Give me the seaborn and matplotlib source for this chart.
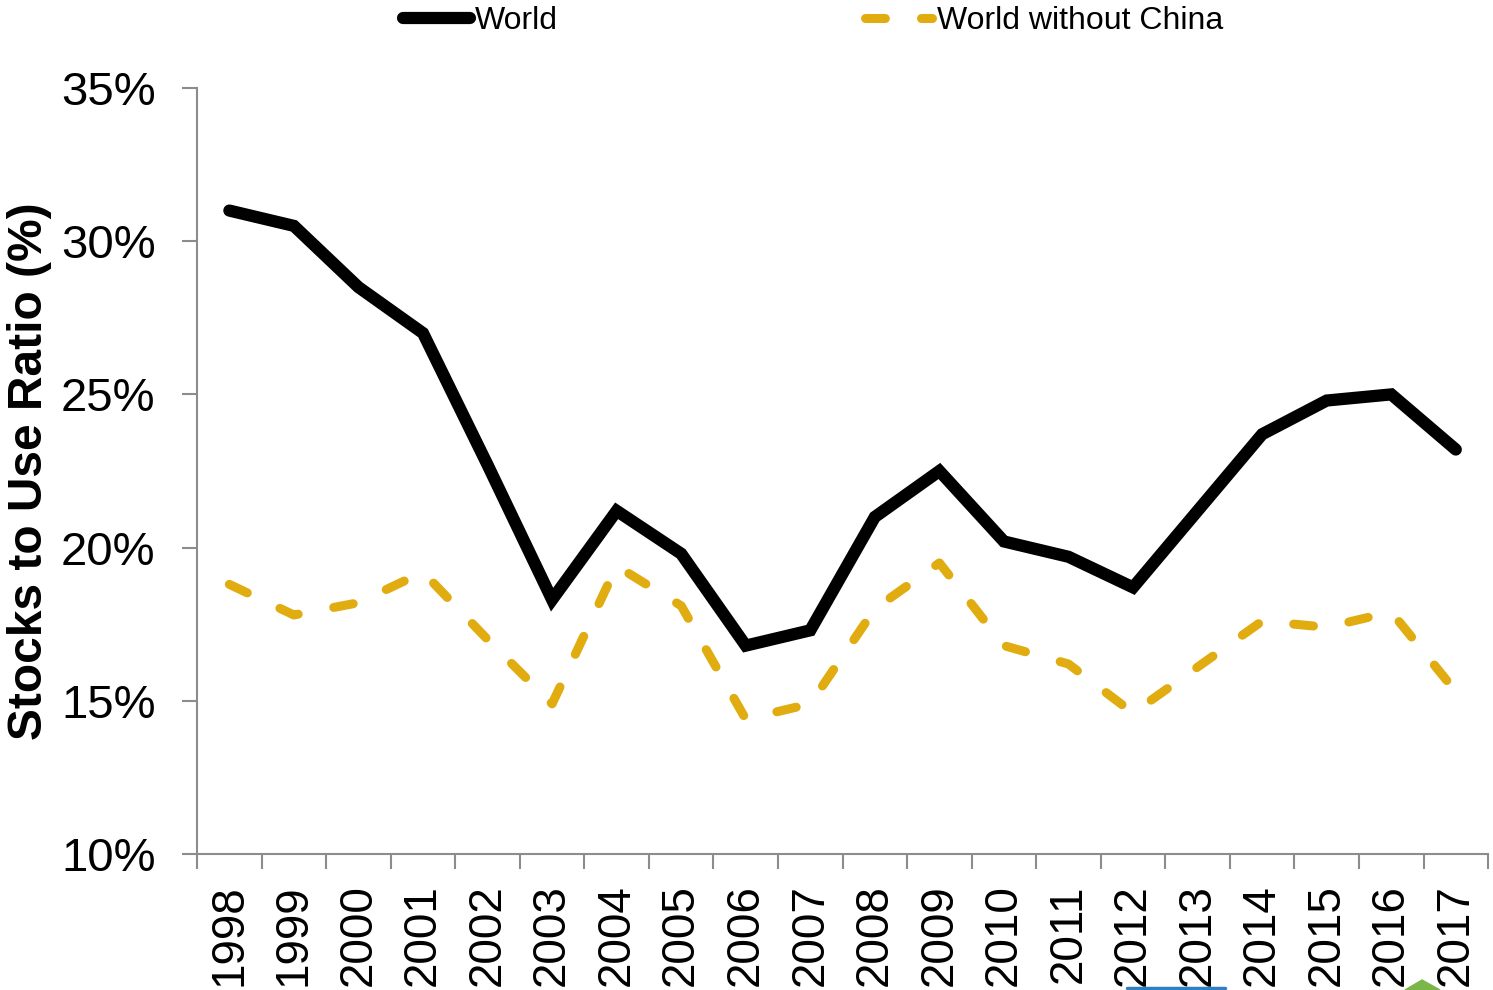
import matplotlib
matplotlib.use("Agg")
import matplotlib.pyplot as plt
import seaborn as sns
import pandas as pd
import numpy as np
from matplotlib.patches import Polygon
from matplotlib.lines import Line2D
from matplotlib.ticker import FixedLocator, FuncFormatter

years = [str(y) for y in range(1998, 2018)]
world = [31.0, 30.5, 28.5, 27.0, 22.7, 18.3, 21.2, 19.8, 16.8, 17.3,
         21.0, 22.5, 20.2, 19.7, 18.7, 21.2, 23.7, 24.8, 25.0, 23.2]
world_ex_china = [18.8, 17.8, 18.2, 19.2, 17.0, 14.9, 19.4, 18.1, 14.4, 14.9,
                  18.0, 19.5, 16.8, 16.2, 14.6, 16.1, 17.6, 17.4, 17.9, 15.3]
series_names = ["World", "World without China"]
yticks = [10, 15, 20, 25, 30, 35]

sns.set_style("white")
plt.rcParams["font.family"] = ["Liberation Sans", "DejaVu Sans"]
plt.rcParams["text.color"] = "black"
plt.rcParams["xtick.color"] = "black"
plt.rcParams["ytick.color"] = "black"
plt.rcParams["axes.labelcolor"] = "black"

df = pd.DataFrame({
    "Year": years * 2,
    "Ratio": world + world_ex_china,
    "Series": [series_names[0]] * len(years) + [series_names[1]] * len(years),
})

fig = plt.figure(figsize=(14.93, 9.90), dpi=100)
ax = fig.add_axes([0.1320, 0.1374, 0.9967 - 0.1320, 0.9111 - 0.1374])

gold = "#E0AC10"
sns.lineplot(data=df[df.Series == series_names[0]], x="Year", y="Ratio", ax=ax,
             color="black", linewidth=8.8, solid_capstyle="round",
             solid_joinstyle="miter", sort=False, legend=False)
sns.lineplot(data=df[df.Series == series_names[1]], x="Year", y="Ratio", ax=ax,
             color=gold, linewidth=6.5, sort=False, legend=False)
ax.lines[1].set_dashes((2.2, 4.0))
ax.lines[1].set_dash_capstyle("round")

ax.set_ylim(10, 35)
ax.set_xlim(-0.5, len(years) - 0.5)
ax.set_yticks(yticks)
ax.yaxis.set_major_formatter(FuncFormatter(lambda v, p: f"{v:.0f}%"))
ax.set_xticks(range(len(years)))
ax.set_xticklabels(years, rotation=90, fontsize=33, color="black")
ax.xaxis.set_minor_locator(FixedLocator(np.arange(-0.5, len(years), 1.0)))
ax.tick_params(axis="x", which="both", bottom=True)
ax.tick_params(axis="x", which="major", length=0, pad=22)
ax.tick_params(axis="x", which="minor", length=10.5, width=1.5, color="#8C8C8C", direction="out")
ax.tick_params(axis="y", which="major", left=True, length=11, width=1.5, color="#8C8C8C",
               direction="out", labelsize=34, pad=19, labelcolor="black")

for s in ["top", "right"]:
    ax.spines[s].set_visible(False)
for s in ["left", "bottom"]:
    ax.spines[s].set_color("#8C8C8C")
    ax.spines[s].set_linewidth(1.5)

ax.set_xlabel("")
ax.set_ylabel("Stocks to Use Ratio (%)", fontsize=34.5, fontweight="bold", color="black")
ax.yaxis.set_label_coords(-0.112, 0.5)

handles = [
    Line2D([], [], color="black", linewidth=8.8, solid_capstyle="round"),
    Line2D([], [], color=gold, linewidth=6.5, dashes=(2.2, 4.0), dash_capstyle="round"),
]
fig.legend(handles, series_names, loc="center", bbox_to_anchor=(0.5445, 0.979),
           ncol=2, frameon=False, fontsize=23, handlelength=2.1,
           handletextpad=0.15, columnspacing=9.6, borderaxespad=0)

# partial elements cut off at the bottom edge
fig.add_artist(Line2D([1127 / 1493, 1225 / 1493], [2 / 990, 2 / 990],
                      transform=fig.transFigure, color="#2F7FC1", linewidth=2.5))
fig.add_artist(Polygon([[1405 / 1493, 0], [1422 / 1493, 10 / 990], [1440 / 1493, 0]],
                       closed=True, transform=fig.transFigure, color="#7AB648"))

fig.savefig("out.png", dpi=100)
